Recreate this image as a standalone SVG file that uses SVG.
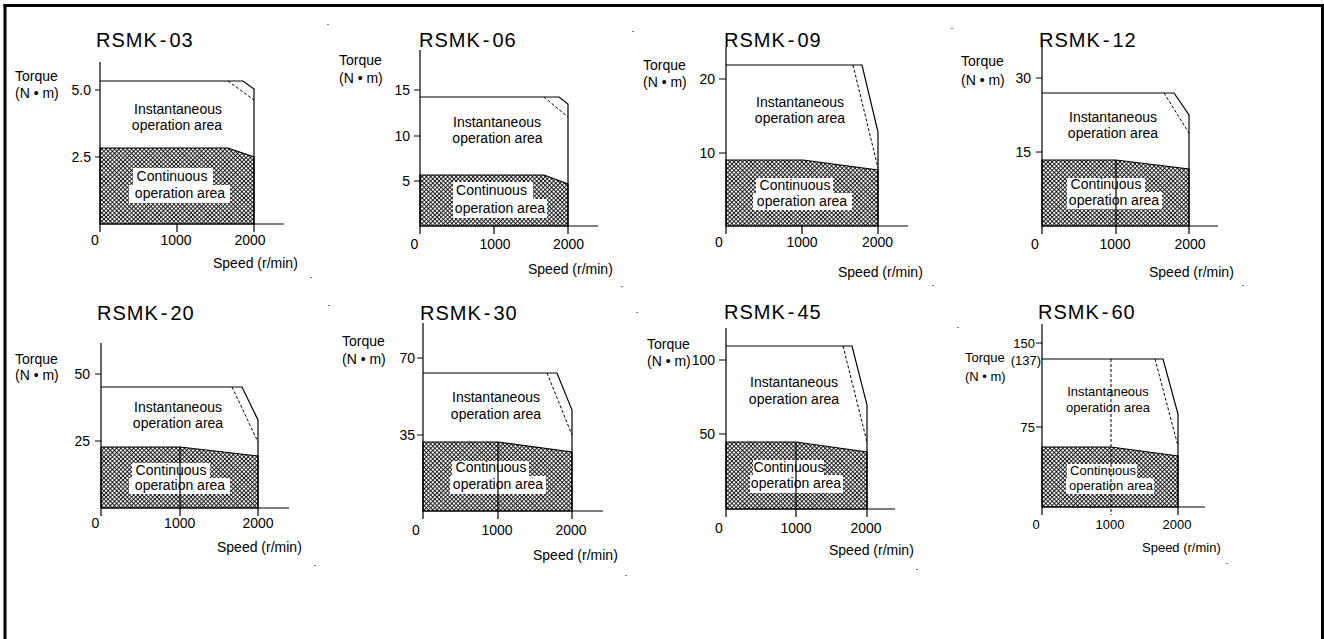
<svg xmlns="http://www.w3.org/2000/svg" width="1324" height="639" viewBox="0 0 1324 639">
<style>
text{font-family:"Liberation Sans",Arial,Helvetica,sans-serif;font-size:14px;fill:#000}
.t{font-size:20px;letter-spacing:1px}
.s13 text{font-size:13px}
.s13 text.t{font-size:20px}
.m{text-anchor:middle}
.e{text-anchor:end}
.ln{stroke:#000;stroke-width:1.2;fill:none}
.ds{stroke:#000;stroke-width:1;fill:none;stroke-dasharray:3 2}
.ct{fill:url(#hatch);stroke:#000;stroke-width:1.2}
.wb{fill:#fff}
.dot{fill:#777}
</style>
<defs>
<pattern id="hatch" width="3" height="3" patternUnits="userSpaceOnUse" patternTransform="rotate(45)">
<rect width="3" height="3" fill="#fff"/>
<path d="M0,0.5 H3 M0.5,0 V3" stroke="#000" stroke-width="0.85"/>
</pattern>
</defs>
<rect width="1324" height="639" fill="#fff"/>
<g id="frame">
<rect x="3.5" y="4" width="3" height="635" fill="#000"/>
<rect x="3.5" y="4" width="1320.5" height="3" fill="#000"/>
<rect x="1321" y="4" width="3" height="635" fill="#000"/>
</g>
<g id="specks">
<rect class="dot" x="327" y="24" width="2" height="1"/>
<rect class="dot" x="310" y="277" width="2" height="1"/>
<rect class="dot" x="632" y="31" width="2" height="1"/>
<rect class="dot" x="621" y="286" width="2" height="1"/>
<rect class="dot" x="951" y="28" width="2" height="1"/>
<rect class="dot" x="932" y="285" width="2" height="1"/>
<rect class="dot" x="1242" y="285" width="2" height="1"/>
<rect class="dot" x="314" y="565" width="2" height="1"/>
<rect class="dot" x="328" y="305" width="2" height="1"/>
<rect class="dot" x="636" y="312" width="2" height="1"/>
<rect class="dot" x="625" y="575" width="2" height="1"/>
<rect class="dot" x="957" y="327" width="2" height="1"/>
<rect class="dot" x="916" y="569" width="2" height="1"/>
<rect class="dot" x="1226" y="563" width="2" height="1"/>
</g>

<g id="rsmk-03">
<text class="t" x="96" y="47">RSMK<tspan dx="2">-</tspan><tspan dx="2">03</tspan></text>
<text x="15" y="81">Torque</text>
<text x="15" y="98">(N • m)</text>
<polygon class="ct" points="100,148 228,148 254,157 254,224 100,224"/>
<rect class="wb" x="133" y="168" width="80" height="17"/>
<rect class="wb" x="129" y="185" width="101" height="18"/>
<path class="ln" d="M100,62 V232 M100,224 H284 M177,224 V232 M95,90 H100 M95,157 H100"/>
<polyline class="ln" points="100,81 243,81 254,89 254,232"/>
<path class="ds" d="M228,81 L254,100"/>
<text class="e" x="91" y="95">5.0</text>
<text class="e" x="91" y="162">2.5</text>
<text class="m" x="95" y="245">0</text>
<text class="m" x="176" y="245">1000</text>
<text class="m" x="250" y="245">2000</text>
<text x="213" y="268">Speed (r/min)</text>
<text class="m" x="178" y="114">Instantaneous</text>
<text class="m" x="177" y="130">operation area</text>
<text class="m" x="172" y="181">Continuous</text>
<text class="m" x="180" y="198">operation area</text>
</g>

<g id="rsmk-06">
<text class="t" x="419" y="47">RSMK<tspan dx="2">-</tspan><tspan dx="2">06</tspan></text>
<text x="339" y="65">Torque</text>
<text x="339" y="83">(N • m)</text>
<polygon class="ct" points="420,175 544,175 568,184 568,226 420,226"/>
<rect class="wb" x="453" y="182" width="80" height="17"/>
<rect class="wb" x="453" y="199" width="94" height="19"/>
<path class="ln" d="M420,50 V234 M420,226 H598 M494,226 V234 M414,90 H420 M414,136 H420 M414,181 H420"/>
<polyline class="ln" points="420,97 559,97 568,104 568,234"/>
<path class="ds" d="M544,97 L568,117"/>
<text class="e" x="410" y="95">15</text>
<text class="e" x="410" y="141">10</text>
<text class="e" x="410" y="186">5</text>
<text class="m" x="414.5" y="249">0</text>
<text class="m" x="495" y="249">1000</text>
<text class="m" x="568.5" y="249">2000</text>
<text x="528" y="274">Speed (r/min)</text>
<text class="m" x="497" y="127">Instantaneous</text>
<text class="m" x="497.5" y="143">operation area</text>
<text class="m" x="491.5" y="195">Continuous</text>
<text class="m" x="500" y="213">operation area</text>
</g>

<g id="rsmk-09">
<text class="t" x="724" y="47">RSMK<tspan dx="2">-</tspan><tspan dx="2">09</tspan></text>
<text x="643" y="70">Torque</text>
<text x="643" y="87">(N • m)</text>
<polygon class="ct" points="726,160 803,160 878,170 878,226 726,226"/>
<rect class="wb" x="756" y="178" width="77" height="15"/>
<rect class="wb" x="753" y="193" width="99" height="17"/>
<path class="ln" d="M726,47 V234 M726,226 H908 M802,226 V234 M719,79 H726 M719,153 H726"/>
<polyline class="ln" points="726,65 862,65 878,132 878,234"/>
<path class="ds" d="M853,65 L878,168"/>
<text class="e" x="715" y="84">20</text>
<text class="e" x="715" y="158">10</text>
<text class="m" x="719" y="247">0</text>
<text class="m" x="802" y="247">1000</text>
<text class="m" x="877.5" y="247">2000</text>
<text x="838" y="277">Speed (r/min)</text>
<text class="m" x="800" y="107">Instantaneous</text>
<text class="m" x="800" y="123">operation area</text>
<text class="m" x="795" y="190">Continuous</text>
<text class="m" x="802" y="206">operation area</text>
</g>

<g id="rsmk-12">
<text class="t" x="1039" y="47">RSMK<tspan dx="2">-</tspan><tspan dx="2">12</tspan></text>
<text x="961" y="66">Torque</text>
<text x="961" y="85">(N • m)</text>
<polygon class="ct" points="1042,160 1116,160 1189,169 1189,226 1042,226"/>
<rect class="wb" x="1067" y="178" width="78" height="14"/>
<rect class="wb" x="1067" y="192" width="95" height="17"/>
<path class="ln" d="M1042,40 V234 M1042,226 H1218 M1116,160 V234 M1036,78 H1042 M1036,152 H1042"/>
<polyline class="ln" points="1042,93 1174,93 1189,115 1189,234"/>
<path class="ds" d="M1164,93 L1189,133"/>
<text class="e" x="1031" y="83">30</text>
<text class="e" x="1031" y="157">15</text>
<text class="m" x="1035" y="249">0</text>
<text class="m" x="1115" y="249">1000</text>
<text class="m" x="1190" y="249">2000</text>
<text x="1149" y="277">Speed (r/min)</text>
<text class="m" x="1113" y="122">Instantaneous</text>
<text class="m" x="1113" y="138">operation area</text>
<text class="m" x="1106" y="189">Continuous</text>
<text class="m" x="1114" y="205">operation area</text>
</g>

<g id="rsmk-20">
<text class="t" x="97" y="320">RSMK<tspan dx="2">-</tspan><tspan dx="2">20</tspan></text>
<text x="15" y="364">Torque</text>
<text x="15" y="380">(N • m)</text>
<polygon class="ct" points="101,447 180,447 258,456 258,508 101,508"/>
<rect class="wb" x="132" y="463" width="78" height="15"/>
<rect class="wb" x="129" y="478" width="101" height="16"/>
<path class="ln" d="M101,343 V516 M101,508 H289 M180,447 V516 M95,374 H101 M95,441 H101"/>
<polyline class="ln" points="101,387 242,387 258,420 258,516"/>
<path class="ds" d="M232,387 L258,442"/>
<text class="e" x="90" y="379">50</text>
<text class="e" x="90" y="446">25</text>
<text class="m" x="95.5" y="528">0</text>
<text class="m" x="179.7" y="528">1000</text>
<text class="m" x="258" y="528">2000</text>
<text x="217" y="552">Speed (r/min)</text>
<text class="m" x="178" y="412">Instantaneous</text>
<text class="m" x="178" y="428">operation area</text>
<text class="m" x="171" y="475">Continuous</text>
<text class="m" x="180" y="490">operation area</text>
</g>

<g id="rsmk-30">
<text class="t" x="420" y="320">RSMK<tspan dx="2">-</tspan><tspan dx="2">30</tspan></text>
<text x="342" y="346">Torque</text>
<text x="342" y="364">(N • m)</text>
<polygon class="ct" points="423,442 498,442 572,452 572,511 423,511"/>
<rect class="wb" x="452" y="461" width="77" height="15"/>
<rect class="wb" x="450" y="476" width="96" height="18"/>
<path class="ln" d="M423,323 V519 M423,511 H603 M498,442 V519 M417,358 H423 M417,435 H423"/>
<polyline class="ln" points="423,373 557,373 572,410 572,519"/>
<path class="ds" d="M547,373 L572,435"/>
<text class="e" x="415" y="363">70</text>
<text class="e" x="415" y="440">35</text>
<text class="m" x="416" y="535">0</text>
<text class="m" x="497" y="535">1000</text>
<text class="m" x="571" y="535">2000</text>
<text x="533" y="560">Speed (r/min)</text>
<text class="m" x="496" y="402">Instantaneous</text>
<text class="m" x="496" y="419">operation area</text>
<text class="m" x="491" y="472">Continuous</text>
<text class="m" x="498" y="489">operation area</text>
</g>

<g id="rsmk-45">
<text class="t" x="724" y="319">RSMK<tspan dx="2">-</tspan><tspan dx="2">45</tspan></text>
<text x="647" y="349">Torque</text>
<text x="647" y="366">(N • m)</text>
<polygon class="ct" points="726,442 796,442 867,452 867,509 726,509"/>
<rect class="wb" x="753" y="460" width="71" height="15"/>
<rect class="wb" x="750" y="475" width="93" height="18"/>
<path class="ln" d="M726,328 V517 M726,509 H895 M796,442 V517 M719,360 H726 M719,434 H726"/>
<polyline class="ln" points="726,346 852,346 867,405 867,517"/>
<path class="ds" d="M843,346 L867,442"/>
<text class="e" x="715" y="365">100</text>
<text class="e" x="715" y="439">50</text>
<text class="m" x="719" y="533">0</text>
<text class="m" x="796" y="533">1000</text>
<text class="m" x="866" y="533">2000</text>
<text x="829" y="555">Speed (r/min)</text>
<text class="m" x="794" y="387">Instantaneous</text>
<text class="m" x="794" y="404">operation area</text>
<text class="m" x="789" y="472">Continuous</text>
<text class="m" x="796" y="488">operation area</text>
</g>

<g id="rsmk-60" class="s13">
<text class="t" x="1038" y="319">RSMK<tspan dx="2">-</tspan><tspan dx="2">60</tspan></text>
<text x="965" y="362">Torque</text>
<text x="965" y="381">(N • m)</text>
<polygon class="ct" points="1042,447 1111,447 1178,456 1178,507 1042,507"/>
<rect class="wb" x="1067" y="464" width="70" height="14"/>
<rect class="wb" x="1066" y="478" width="88" height="16"/>
<path class="ln" d="M1042,324 V515 M1042,507 H1205 M1036,343 H1042 M1036,427 H1042"/>
<path class="ds" d="M1111,359 V515"/>
<polyline class="ln" points="1042,359 1163,359 1178,414 1178,515"/>
<path class="ds" d="M1155,359 L1178,446"/>
<text class="e" x="1035" y="348">150</text>
<text class="e" x="1041" y="365">(137)</text>
<text class="e" x="1035" y="432">75</text>
<text class="m" x="1036" y="529">0</text>
<text class="m" x="1110" y="529">1000</text>
<text class="m" x="1177" y="529">2000</text>
<text x="1142" y="552">Speed (r/min)</text>
<text class="m" x="1108" y="396">Instantaneous</text>
<text class="m" x="1108" y="412">operation area</text>
<text class="m" x="1103" y="475">Continuous</text>
<text class="m" x="1111" y="490">operation area</text>
</g>
</svg>
